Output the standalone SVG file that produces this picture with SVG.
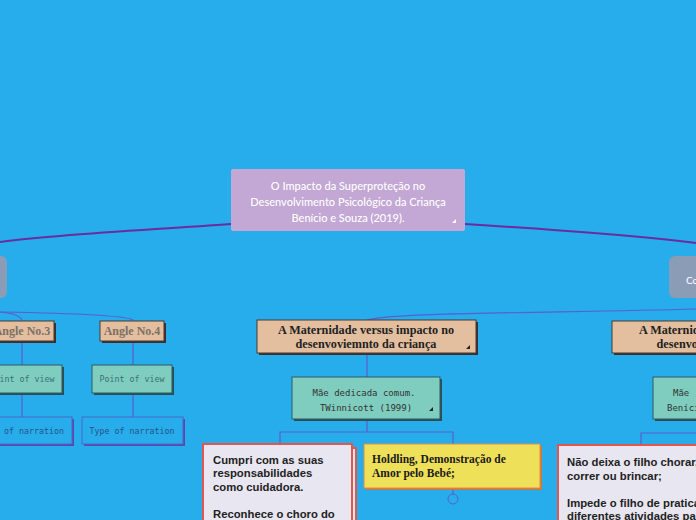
<svg xmlns="http://www.w3.org/2000/svg" width="696" height="520" viewBox="0 0 696 520">
<style>
.main{fill:none;stroke:#6a2c9e;stroke-width:2}
.sub{fill:none;stroke:#5b5fcf;stroke-width:1.2}
.ctext{font-family:Lato,"Open Sans",sans-serif;font-size:11px;font-weight:500;fill:#fff;text-anchor:middle}
.tan{fill:#e3bf9f;stroke:#4a3a30;stroke-width:1}
.tanS{fill:#3a3030}
.serifB{font-family:"Liberation Serif",serif;font-weight:bold;font-size:12.2px;fill:#222;text-anchor:middle}
.angle{font-family:"Liberation Serif",serif;font-weight:bold;font-size:12px;fill:#7d6f66;text-anchor:middle}
.teal{fill:#7fcdbf;stroke:#2c5d63;stroke-width:1}
.tealS{fill:#2c4d55}
.mono{font-family:"DejaVu Sans Mono","Liberation Mono",monospace;font-size:8.3px;fill:#3d7078;text-anchor:middle}
.mono2{font-family:"DejaVu Sans Mono","Liberation Mono",monospace;font-size:9px;fill:#333;text-anchor:middle}
.typ{fill:#27acec;stroke:#4a68c8;stroke-width:1}
.typS{fill:#5a48b0}
.typT{font-family:"DejaVu Sans Mono","Liberation Mono",monospace;font-size:8.3px;fill:#2b5283;text-anchor:middle}
.red{fill:#e8e6f0;stroke:#e3564c;stroke-width:2}
.sans{font-family:"Liberation Sans",Arial,sans-serif;font-weight:bold;font-size:11.3px;fill:#222}
.tri{fill:#fff}
.tri2{fill:#222}
</style>
<rect x="0" y="0" width="696" height="520" fill="#27acec"/>

<g id="connectors">
  <path class="main" d="M231,224 C150,230 60,234 0,242"/>
  <path class="main" d="M465,224 C560,230 640,236 696,243"/>
  <path class="sub" d="M0,312 C10,313 20,315 22,320"/>
  <path class="sub" d="M0,312 C60,313 125,315 133,320"/>
  <path class="sub" d="M22,341 L22,365 M22,393 L22,417"/>
  <path class="sub" d="M133,341 L133,365 M133,393 L133,417"/>
  <path class="sub" d="M696,309 C560,313 400,312 367,320"/>
  <path class="sub" d="M367,353 L367,377 M367,419 L367,432 M280,444 L280,432 L453,432 L453,444"/>
  <path class="sub" d="M453,489 L453,494"/>
  <circle cx="453" cy="499" r="5" fill="none" stroke="#5b5fcf" stroke-width="1"/>
  <path class="sub" d="M641,445 L641,433 L696,433"/>
</g>

<g id="central">
  <rect x="231" y="169" width="234" height="62" rx="2" fill="#c3a7d4"/>
  <text class="ctext" x="348" y="190">O Impacto da Superproteção no</text>
  <text class="ctext" x="348" y="206">Desenvolvimento Psicológico da Criança</text>
  <text class="ctext" x="348" y="222">Benício e Souza (2019).</text>
  <path class="tri" d="M456,219 L456,223 L452,223 Z"/>
</g>

<g id="left-gray">
  <rect x="-20" y="256" width="27" height="42" rx="6" fill="#8b9db6"/>
</g>

<g id="right-gray">
  <rect x="669" y="256" width="60" height="42" rx="6" fill="#8b9db6"/>
  <text x="686" y="284" style="font-family:Lato,'Open Sans',sans-serif;font-size:10px;fill:#fff">Co</text>
</g>

<g id="angle3">
  <rect class="tanS" x="-8" y="323" width="64" height="20"/>
  <rect class="tan" x="-10" y="321" width="64" height="20"/>
  <text class="angle" x="22" y="335">Angle No.3</text>
</g>
<g id="angle4">
  <rect class="tanS" x="102" y="323" width="64" height="20"/>
  <rect class="tan" x="100" y="321" width="64" height="20"/>
  <text class="angle" x="132" y="335">Angle No.4</text>
</g>

<g id="pov3">
  <rect class="tealS" x="-16" y="367" width="80" height="28"/>
  <rect class="teal" x="-18" y="365" width="80" height="28"/>
  <text class="mono" x="22" y="382">Point of view</text>
</g>
<g id="pov4">
  <rect class="tealS" x="94" y="367" width="80" height="28"/>
  <rect class="teal" x="92" y="365" width="80" height="28"/>
  <text class="mono" x="132" y="382">Point of view</text>
</g>

<g id="type3">
  <rect class="typS" x="-27" y="419" width="101" height="27"/>
  <rect class="typ" x="-29" y="417" width="101" height="27"/>
  <text class="typT" x="21.5" y="434">Type of narration</text>
</g>
<g id="type4">
  <rect class="typS" x="84" y="419" width="101" height="27"/>
  <rect class="typ" x="82" y="417" width="101" height="27"/>
  <text class="typT" x="132" y="434">Type of narration</text>
</g>

<g id="maternidade-mid">
  <rect class="tanS" x="259" y="322" width="219" height="33"/>
  <rect class="tan" x="257" y="320" width="219" height="33"/>
  <text class="serifB" x="366" y="334">A Maternidade versus impacto no</text>
  <text class="serifB" x="366" y="348">desenvoviemnto da criança</text>
  <path class="tri2" d="M470,345 L470,349 L466,349 Z"/>
</g>

<g id="mae-mid">
  <rect class="tealS" x="294" y="379" width="148" height="42"/>
  <rect class="teal" x="292" y="377" width="148" height="42"/>
  <text class="mono2" x="364" y="396">Mãe dedicada comum.</text>
  <text class="mono2" x="366" y="411">TWinnicott (1999)</text>
  <path class="tri2" d="M433,407 L433,411 L429,411 Z"/>
</g>

<g id="cumpri">
  <rect class="red" x="207" y="448" width="149" height="80"/>
  <rect class="red" x="203" y="444" width="149" height="80"/>
  <text class="sans" x="213" y="464">Cumpri com as suas</text>
  <text class="sans" x="213" y="477">responsabilidades</text>
  <text class="sans" x="213" y="491">como cuidadora.</text>
  <text class="sans" x="213" y="518">Reconhece o choro do</text>
</g>

<g id="holding">
  <rect x="366" y="446" width="176" height="44" fill="#c8783a"/>
  <rect x="364" y="444" width="176" height="44" fill="#efe05a" stroke="#e08a4a" stroke-width="1"/>
  <text x="372" y="463" style="font-family:'Liberation Serif',serif;font-weight:bold;font-size:11.5px;fill:#1a1a1a">Holdling, Demonstração de</text>
  <text x="372" y="477" style="font-family:'Liberation Serif',serif;font-weight:bold;font-size:11.5px;fill:#1a1a1a">Amor pelo Bebé;</text>
</g>

<g id="maternidade-right">
  <rect class="tanS" x="614" y="323" width="219" height="32"/>
  <rect class="tan" x="612" y="321" width="219" height="32"/>
  <text class="serifB" x="727" y="334">A Maternidade versus impacto no</text>
  <text class="serifB" x="727" y="348">desenvoviemnto da criança</text>
</g>

<g id="mae-right">
  <rect class="tealS" x="655" y="379" width="148" height="42"/>
  <rect class="teal" x="653" y="377" width="148" height="42"/>
  <text x="673" y="396" style="font-family:'DejaVu Sans Mono',monospace;font-size:9px;fill:#333">Mãe</text>
  <text x="667" y="411" style="font-family:'DejaVu Sans Mono',monospace;font-size:9px;fill:#333">Benício</text>
</g>

<g id="nao-deixa">
  <rect class="red" x="558" y="445" width="160" height="90"/>
  <text class="sans" x="567" y="466">Não deixa o filho chorar,</text>
  <text class="sans" x="567" y="480">correr ou brincar;</text>
  <text class="sans" x="567" y="507">Impede o filho de praticar</text>
  <text class="sans" x="567" y="520">diferentes atividades para</text>
</g>
</svg>
